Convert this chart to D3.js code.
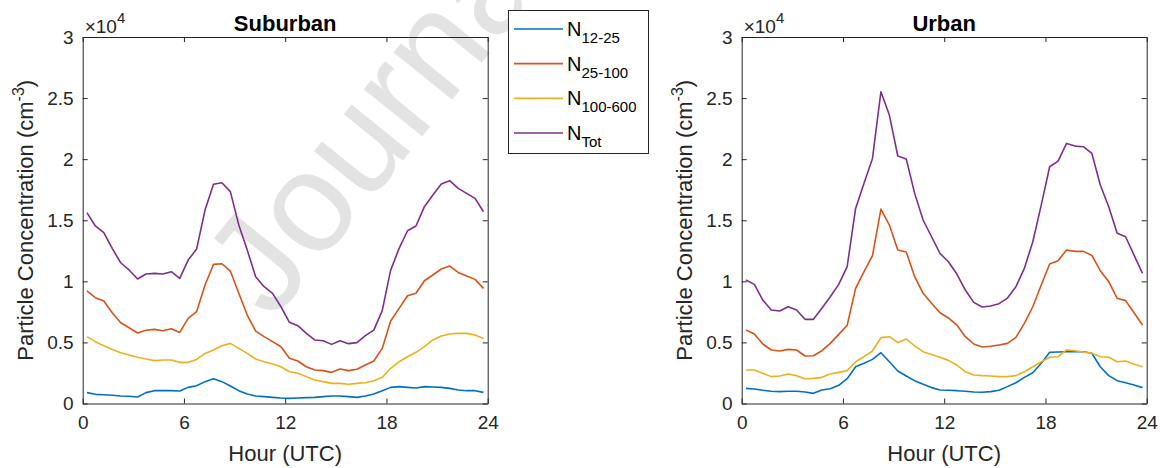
<!DOCTYPE html>
<html>
<head>
<meta charset="utf-8">
<script src="https://cdnjs.cloudflare.com/ajax/libs/d3/7.8.5/d3.min.js"></script>
<style>
  body { margin: 0; background: #fff; }
  svg { display: block; font-family: "Liberation Sans", Arial, sans-serif; }
</style>
</head>
<body>
<svg id="svg1" width="1166" height="468"></svg>
<script>
// half-hour bins (UTC)
var hours = [0.25,0.75,1.25,1.75,2.25,2.75,3.25,3.75,4.25,4.75,5.25,5.75,
  6.25,6.75,7.25,7.75,8.25,8.75,9.25,9.75,10.25,10.75,11.25,11.75,
  12.25,12.75,13.25,13.75,14.25,14.75,15.25,15.75,16.25,16.75,17.25,17.75,
  18.25,18.75,19.25,19.75,20.25,20.75,21.25,21.75,22.25,22.75,23.25,23.75];

var seriesNames = ['12-25', '25-100', '100-600', 'Tot'];
var colors = ['#0072BD', '#D95319', '#EDB120', '#7E2F8E'];

var xTicks = [0, 6, 12, 18, 24];
var yTicks = [0, 0.5, 1, 1.5, 2, 2.5, 3];
var yTickLabels = ['0', '0.5', '1', '1.5', '2', '2.5', '3'];

// values in units of 10^4 cm^-3
var subN12_25 = [0.089,0.075,0.072,0.067,0.061,0.059,0.053,0.089,0.105,0.105,0.105,0.102,
  0.132,0.146,0.179,0.203,0.179,0.143,0.105,0.078,0.061,0.056,0.050,0.045,
  0.042,0.045,0.048,0.050,0.056,0.061,0.061,0.056,0.050,0.061,0.078,0.105,
  0.132,0.138,0.132,0.127,0.138,0.135,0.132,0.124,0.110,0.105,0.105,0.091];
var subN25_100 = [0.921,0.866,0.839,0.743,0.661,0.620,0.577,0.599,0.607,0.596,0.612,0.582,
  0.697,0.752,0.970,1.139,1.144,1.084,0.902,0.724,0.593,0.547,0.506,0.465,
  0.370,0.348,0.301,0.274,0.269,0.255,0.282,0.269,0.280,0.315,0.348,0.451,
  0.675,0.779,0.882,0.902,1.005,1.052,1.101,1.125,1.073,1.043,1.016,0.942];
var subN100_600 = [0.547,0.506,0.473,0.443,0.416,0.397,0.378,0.364,0.351,0.356,0.356,0.337,
  0.337,0.361,0.410,0.438,0.473,0.492,0.451,0.410,0.364,0.342,0.323,0.301,
  0.260,0.247,0.220,0.192,0.179,0.165,0.165,0.157,0.165,0.170,0.187,0.214,
  0.288,0.342,0.383,0.419,0.465,0.520,0.552,0.569,0.574,0.574,0.561,0.533];
var subNTot = [1.562,1.453,1.398,1.270,1.152,1.093,1.019,1.060,1.065,1.060,1.079,1.024,
  1.174,1.264,1.584,1.794,1.807,1.734,1.461,1.256,1.038,0.956,0.901,0.792,
  0.665,0.637,0.574,0.520,0.514,0.484,0.514,0.490,0.498,0.555,0.601,0.760,
  1.092,1.270,1.414,1.453,1.611,1.707,1.796,1.824,1.761,1.720,1.679,1.570];

var urbN12_25 = [0.124,0.119,0.108,0.100,0.097,0.100,0.100,0.094,0.083,0.110,0.121,0.149,
  0.203,0.301,0.329,0.361,0.416,0.342,0.266,0.225,0.187,0.157,0.130,0.110,
  0.108,0.105,0.100,0.094,0.092,0.097,0.108,0.138,0.170,0.214,0.252,0.329,
  0.419,0.421,0.424,0.424,0.424,0.411,0.301,0.228,0.187,0.170,0.151,0.130];
var urbN25_100 = [0.601,0.569,0.487,0.438,0.430,0.443,0.438,0.389,0.391,0.432,0.492,0.566,
  0.640,0.942,1.079,1.210,1.591,1.461,1.256,1.240,1.038,0.902,0.820,0.743,
  0.700,0.642,0.547,0.487,0.462,0.468,0.479,0.492,0.541,0.656,0.792,0.970,
  1.142,1.169,1.256,1.245,1.245,1.212,1.087,0.997,0.861,0.842,0.743,0.642];
var urbN100_600 = [0.274,0.274,0.247,0.220,0.225,0.241,0.228,0.203,0.206,0.214,0.241,0.255,
  0.269,0.342,0.383,0.430,0.539,0.547,0.498,0.528,0.471,0.424,0.402,0.378,
  0.353,0.315,0.260,0.233,0.228,0.225,0.220,0.220,0.228,0.260,0.301,0.342,
  0.378,0.383,0.438,0.432,0.422,0.411,0.383,0.378,0.342,0.348,0.321,0.301];
var urbNTot = [1.011,0.975,0.847,0.765,0.757,0.792,0.765,0.689,0.689,0.779,0.874,0.975,
  1.120,1.597,1.802,2.006,2.552,2.361,2.026,2.001,1.720,1.502,1.365,1.229,
  1.160,1.060,0.929,0.828,0.790,0.798,0.817,0.863,0.956,1.106,1.324,1.624,
  1.938,1.984,2.129,2.107,2.102,2.047,1.788,1.611,1.393,1.365,1.215,1.065];

var svg = d3.select('svg');
var axisColor = '#262626';

// watermark sits behind everything
svg.append('text')
  .attr('transform', 'translate(272,322) rotate(-51)')
  .attr('font-size', 142)
  .attr('fill', '#e3e3e3')
  .text('Journal Pre-proof');

var panels = [
  {title: 'Suburban', left: 82.7, data: [subN12_25, subN25_100, subN100_600, subNTot]},
  {title: 'Urban', left: 741.7, data: [urbN12_25, urbN25_100, urbN100_600, urbNTot]}
];

var plotW = 405, plotTop = 37, plotBottom = 403.5;

panels.forEach(function(p) {
  var x = d3.scaleLinear().domain([0, 24]).range([p.left, p.left + plotW]);
  var y = d3.scaleLinear().domain([0, 3]).range([plotBottom, plotTop]);
  var g = svg.append('g');

  var line = d3.line()
    .x(function(d, i) { return x(hours[i]); })
    .y(function(d) { return y(d); });

  g.selectAll('.series')
    .data(p.data)
    .enter()
    .append('path')
    .attr('d', line)
    .attr('fill', 'none')
    .attr('stroke', function(d, i) { return colors[i]; })
    .attr('stroke-width', 1.6)
    .attr('stroke-linejoin', 'round');

  // box with inward ticks on all four sides
  var tl = 5;
  g.append('g').attr('transform', 'translate(0,' + plotBottom + ')')
    .call(d3.axisBottom(x).tickValues(xTicks).tickSizeInner(-tl).tickSizeOuter(0).tickPadding(12));
  g.append('g').attr('transform', 'translate(0,' + plotTop + ')')
    .call(d3.axisTop(x).tickValues(xTicks).tickSizeInner(-tl).tickSizeOuter(0).tickFormat(''));
  g.append('g').attr('transform', 'translate(' + p.left + ',0)')
    .call(d3.axisLeft(y).tickValues(yTicks).tickSizeInner(-tl).tickSizeOuter(0).tickPadding(9)
      .tickFormat(function(d, i) { return yTickLabels[i]; }));
  g.append('g').attr('transform', 'translate(' + (p.left + plotW) + ',0)')
    .call(d3.axisRight(y).tickValues(yTicks).tickSizeInner(-tl).tickSizeOuter(0).tickFormat(''));

  g.selectAll('.domain').attr('stroke', axisColor).attr('stroke-width', 1);
  g.selectAll('.tick line').attr('stroke', axisColor);
  g.selectAll('.tick text').attr('fill', axisColor).attr('font-size', 19)
    .attr('font-family', '"Liberation Sans", Arial, sans-serif');

  // title
  svg.append('text')
    .attr('x', p.left + plotW / 2).attr('y', 31)
    .attr('text-anchor', 'middle')
    .attr('font-size', 22).attr('font-weight', 'bold')
    .attr('fill', '#000')
    .text(p.title);

  // x10^4 exponent label
  var ex = svg.append('text')
    .attr('x', p.left + 2).attr('y', 33)
    .attr('font-size', 19).attr('fill', axisColor);
  ex.append('tspan').text('\u00d710');
  ex.append('tspan').attr('font-size', 15).attr('dy', -10).text('4');

  // x label
  svg.append('text')
    .attr('x', p.left + plotW / 2).attr('y', 461)
    .attr('text-anchor', 'middle')
    .attr('font-size', 22).attr('fill', axisColor)
    .text('Hour (UTC)');

  // y label
  var yl = svg.append('text')
    .attr('transform', 'translate(' + (p.left - 50) + ',' + ((plotTop + plotBottom) / 2) + ') rotate(-90)')
    .attr('text-anchor', 'middle')
    .attr('font-size', 22).attr('fill', axisColor);
  yl.append('tspan').text('Particle Concentration (cm');
  yl.append('tspan').attr('font-size', 16).attr('dy', -9).text('-3');
  yl.append('tspan').attr('dy', 9).text(')');
});

// legend
var lg = svg.append('g');
lg.append('rect')
  .attr('x', 508.5).attr('y', 10.5).attr('width', 140).attr('height', 143)
  .attr('fill', '#fff').attr('stroke', axisColor).attr('stroke-width', 1);

var ly = d3.scalePoint().domain(seriesNames).range([29, 133]);

var items = lg.selectAll('.item')
  .data(seriesNames)
  .enter()
  .append('g')
  .attr('transform', function(d) { return 'translate(0,' + ly(d) + ')'; });

items.append('line')
  .attr('x1', 514).attr('x2', 563)
  .attr('stroke', function(d, i) { return colors[i]; })
  .attr('stroke-width', 1.6);

var lt = items.append('text')
  .attr('x', 567).attr('y', 7)
  .attr('font-size', 20).attr('fill', '#000');
lt.append('tspan').text('N');
lt.append('tspan').attr('font-size', 15).attr('dy', 7).text(function(d) { return d; });
</script>
</body>
</html>
